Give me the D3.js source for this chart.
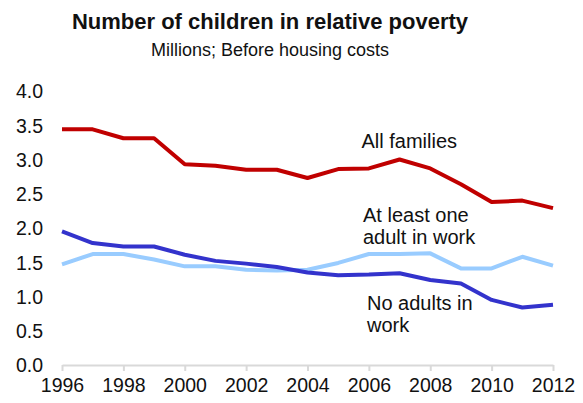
<!DOCTYPE html>
<html>
<head>
<meta charset="utf-8">
<script src="https://cdn.jsdelivr.net/npm/d3@7"></script>
<style>
  html, body { margin: 0; padding: 0; background: #fff; }
  svg { display: block; font-family: Arial, "Liberation Sans", sans-serif; }
</style>
</head>
<body>
<svg id="chart" width="583" height="403"></svg>
<script>
// Children in relative poverty, millions, before housing costs
const years = [1996, 1997, 1998, 1999, 2000, 2001, 2002, 2003, 2004,
               2005, 2006, 2007, 2008, 2009, 2010, 2011, 2012];
const allFamilies = [3.44, 3.44, 3.31, 3.31, 2.93, 2.91, 2.85, 2.85, 2.73,
                     2.86, 2.87, 3.00, 2.87, 2.64, 2.38, 2.40, 2.29];
const atLeastOneInWork = [1.47, 1.62, 1.62, 1.54, 1.44, 1.44, 1.39, 1.38, 1.39,
                          1.49, 1.62, 1.62, 1.63, 1.41, 1.41, 1.58, 1.45];
const noAdultsInWork = [1.95, 1.78, 1.73, 1.73, 1.61, 1.52, 1.48, 1.43, 1.35,
                        1.31, 1.32, 1.34, 1.24, 1.19, 0.95, 0.84, 0.88];
const yTicks = [0, 0.5, 1, 1.5, 2, 2.5, 3, 3.5, 4];
const xTicks = [1996, 1998, 2000, 2002, 2004, 2006, 2008, 2010, 2012];

const svg = d3.select("#chart");

const x = d3.scaleLinear().domain([1996, 2012]).range([62, 553]);
const y = d3.scaleLinear().domain([0, 4]).range([365, 91]);

// Titles
svg.append("text")
  .attr("x", 270).attr("y", 28.5)
  .attr("text-anchor", "middle")
  .attr("font-size", 22).attr("font-weight", "bold").attr("fill", "#111")
  .text("Number of children in relative poverty");
svg.append("text")
  .attr("x", 270).attr("y", 56)
  .attr("text-anchor", "middle")
  .attr("font-size", 18).attr("fill", "#111")
  .text("Millions; Before housing costs");

// Y axis: labels only
const yAxis = d3.axisLeft(y).tickValues(yTicks).tickFormat(d3.format(".1f")).tickSize(0).tickPadding(0);
const gy = svg.append("g").attr("transform", "translate(43,0)").call(yAxis);
gy.select(".domain").remove();
gy.selectAll("text")
  .attr("font-size", 19.5).attr("fill", "#111")
  .attr("font-family", "Arial, 'Liberation Sans', sans-serif")
  .attr("dy", "0.35em");

// X axis: grey baseline with downward ticks
const xAxis = d3.axisBottom(x).tickValues(xTicks).tickFormat(d3.format("d")).tickSize(6).tickSizeOuter(0).tickPadding(7);
const gx = svg.append("g").attr("transform", "translate(0,365)").call(xAxis);
gx.select(".domain").attr("stroke", "#d9d9d9").attr("stroke-width", 2);
gx.selectAll(".tick line").attr("stroke", "#d9d9d9").attr("stroke-width", 2);
gx.selectAll("text")
  .attr("font-size", 19.5).attr("fill", "#111")
  .attr("font-family", "Arial, 'Liberation Sans', sans-serif");

// Series lines
const line = d3.line().x((d, i) => x(years[i])).y(d => y(d));
const series = [
  { values: atLeastOneInWork, color: "#99ccff" },
  { values: noAdultsInWork, color: "#3333cc" },
  { values: allFamilies, color: "#c00000" }
];
svg.selectAll("path.series")
  .data(series)
  .join("path")
  .attr("class", "series")
  .attr("d", d => line(d.values))
  .attr("fill", "none")
  .attr("stroke", d => d.color)
  .attr("stroke-width", 4)
  .attr("stroke-linejoin", "round");

// Series labels
const labels = [
  { lines: ["All families"], x: 361.5, y: 148.3 },
  { lines: ["At least one", "adult in work"], x: 363, y: 221.7 },
  { lines: ["No adults in", "work"], x: 367, y: 310 }
];
labels.forEach(l => {
  const t = svg.append("text")
    .attr("x", l.x).attr("y", l.y)
    .attr("font-size", 20).attr("fill", "#111");
  l.lines.forEach((s, i) => {
    t.append("tspan").attr("x", l.x).attr("dy", i === 0 ? 0 : 21.8).text(s);
  });
});
</script>
</body>
</html>
